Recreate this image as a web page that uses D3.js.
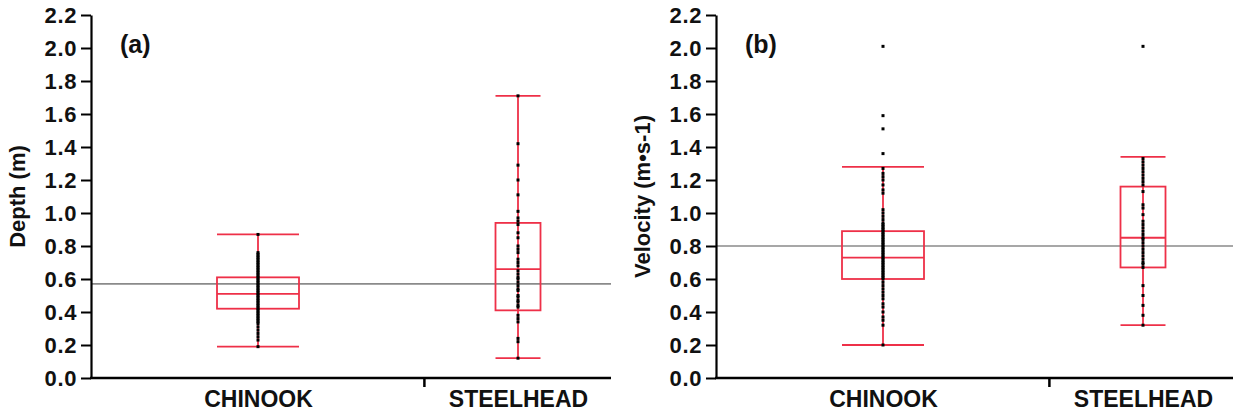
<!DOCTYPE html>
<html>
<head>
<meta charset="utf-8">
<script src="https://cdn.jsdelivr.net/npm/d3@7"></script>
<style>
  html, body { margin: 0; padding: 0; background: #fff; }
  svg { display: block; }
  text { font-family: "Liberation Sans", Arial, Helvetica, sans-serif; font-weight: bold; fill: #111; }
</style>
</head>
<body>
<svg id="chart" width="1233" height="411"></svg>
<script>
// ---------------- DATA ----------------
const categories = ["CHINOOK", "STEELHEAD"];
const yTickValues = [0.0, 0.2, 0.4, 0.6, 0.8, 1.0, 1.2, 1.4, 1.6, 1.8, 2.0, 2.2];

// (a) Depth (m)
const depthLow    = [0.19, 0.12];
const depthQ1     = [0.42, 0.41];
const depthMedian = [0.51, 0.66];
const depthQ3     = [0.61, 0.94];
const depthHigh   = [0.87, 1.71];
const depthRef    = 0.57;
const depthChinookPts = [0.87, 0.76, 0.75, 0.74, 0.73, 0.72, 0.71, 0.70, 0.69, 0.68, 0.67, 0.66, 0.65,
  0.64, 0.63, 0.62, 0.61, 0.60, 0.59, 0.58, 0.57, 0.56, 0.55, 0.54, 0.53, 0.52, 0.51, 0.50, 0.49,
  0.48, 0.47, 0.46, 0.45, 0.44, 0.43, 0.42, 0.41, 0.40, 0.39, 0.38, 0.37, 0.36, 0.35, 0.34, 0.33,
  0.31, 0.29, 0.27, 0.25, 0.23, 0.19];
const depthSteelheadPts = [1.71, 1.42, 1.29, 1.20, 1.11, 1.01, 0.97, 0.95, 0.93, 0.88, 0.85, 0.80,
  0.78, 0.76, 0.72, 0.70, 0.68, 0.65, 0.63, 0.61, 0.60, 0.58, 0.56, 0.54, 0.53, 0.50, 0.49, 0.47,
  0.46, 0.44, 0.43, 0.38, 0.36, 0.34, 0.24, 0.22, 0.12];

// (b) Velocity (m•s-1)
const velLow    = [0.20, 0.32];
const velQ1     = [0.60, 0.67];
const velMedian = [0.73, 0.85];
const velQ3     = [0.89, 1.16];
const velHigh   = [1.28, 1.34];
const velRef    = 0.80;
const velChinookPts = [2.01, 1.59, 1.51, 1.36, 1.27, 1.24, 1.22, 1.20, 1.17, 1.14, 1.12, 1.02, 1.00,
  0.98, 0.96, 0.94, 0.93, 0.92, 0.91, 0.90, 0.89, 0.88, 0.87, 0.86, 0.85, 0.84, 0.83, 0.82, 0.81,
  0.80, 0.79, 0.78, 0.77, 0.76, 0.75, 0.74, 0.73, 0.72, 0.71, 0.70, 0.69, 0.68, 0.67, 0.66, 0.65,
  0.64, 0.63, 0.62, 0.61, 0.60, 0.58, 0.56, 0.54, 0.52, 0.50, 0.48, 0.45, 0.43, 0.40, 0.37, 0.35,
  0.32, 0.20];
const velSteelheadPts = [2.01, 1.33, 1.31, 1.29, 1.27, 1.25, 1.23, 1.21, 1.19, 1.17, 1.13, 1.05, 1.03,
  0.99, 0.95, 0.93, 0.91, 0.89, 0.87, 0.85, 0.84, 0.82, 0.80, 0.78, 0.76, 0.74, 0.72, 0.70, 0.69,
  0.67, 0.56, 0.50, 0.44, 0.38, 0.32];

// ---------------- LAYOUT / STYLE ----------------
const RED = "#ee3048";
const GREY = "#8a8a8a";
const boxWidths = [82, 45];
const plotTop = 15, plotBottom = 378, axisLen = 520;
const firstOffset = 167, lastOffset = 427, sepFrac = 0.64;

const svg = d3.select("#chart");

const panels = [
  { label: "(a)", title: "Depth (m)", axisX: 91, titleX: 17, clip: 611,
    low: depthLow, q1: depthQ1, med: depthMedian, q3: depthQ3, high: depthHigh,
    ref: depthRef, pts: [depthChinookPts, depthSteelheadPts] },
  { label: "(b)", title: "Velocity (m\u2022s-1)", axisX: 716, titleX: 642, clip: 1233,
    low: velLow, q1: velQ1, med: velMedian, q3: velQ3, high: velHigh,
    ref: velRef, pts: [velChinookPts, velSteelheadPts] }
];

const y = d3.scaleLinear().domain([0, 2.2]).range([plotBottom, plotTop]);

panels.forEach(p => {
  const g = svg.append("g");
  const x = d3.scalePoint().domain(categories)
    .range([p.axisX + firstOffset, p.axisX + lastOffset]);
  const xEnd = Math.min(p.axisX + axisLen, p.clip);

  // reference line
  g.append("line")
    .attr("x1", p.axisX).attr("x2", xEnd)
    .attr("y1", y(p.ref)).attr("y2", y(p.ref))
    .attr("stroke", GREY).attr("stroke-width", 1.7);

  // box plots
  categories.forEach((c, i) => {
    const cx = x(c), w = boxWidths[i];
    const bg = g.append("g").attr("stroke", RED).attr("stroke-width", 1.8).attr("fill", "none");
    bg.append("line").attr("x1", cx).attr("x2", cx)
      .attr("y1", y(p.low[i])).attr("y2", y(p.high[i]));
    [p.low[i], p.high[i]].forEach(v => {
      bg.append("line").attr("x1", cx - w / 2).attr("x2", cx + w / 2)
        .attr("y1", y(v)).attr("y2", y(v));
    });
    bg.append("rect").attr("x", cx - w / 2).attr("width", w)
      .attr("y", y(p.q3[i])).attr("height", y(p.q1[i]) - y(p.q3[i]))
      .attr("fill", "none");
    bg.append("line").attr("x1", cx - w / 2).attr("x2", cx + w / 2)
      .attr("y1", y(p.med[i])).attr("y2", y(p.med[i]));
    g.append("g").selectAll("rect").data(p.pts[i]).join("rect")
      .attr("x", cx - 1.5).attr("width", 3)
      .attr("y", d => y(d) - 1.5).attr("height", 3)
      .attr("fill", "#000");
  });

  // y axis
  const yAxis = d3.axisLeft(y).tickValues(yTickValues)
    .tickFormat(d3.format(".1f")).tickSize(10).tickSizeOuter(0).tickPadding(4);
  const ya = g.append("g").attr("transform", `translate(${p.axisX},0)`).call(yAxis);
  ya.select(".domain").attr("stroke", "#000").attr("stroke-width", 2.2);
  ya.selectAll(".tick line").attr("stroke", "#000").attr("stroke-width", 2);
  ya.selectAll(".tick text").attr("font-size", 22).attr("fill", "#111")
    .attr("font-family", "Liberation Sans, Arial, sans-serif").attr("font-weight", "bold")
    .attr("letter-spacing", "0.6px");

  // x axis
  const xAxis = d3.axisBottom(x).tickSize(0).tickPadding(10);
  const xa = g.append("g").attr("transform", `translate(0,${plotBottom})`).call(xAxis);
  xa.select(".domain").remove();
  xa.selectAll(".tick text").attr("font-size", 23).attr("fill", "#111")
    .attr("font-family", "Liberation Sans, Arial, sans-serif").attr("font-weight", "bold")
    .attr("dy", "0.82em");
  g.append("line").attr("x1", p.axisX - 1).attr("x2", xEnd)
    .attr("y1", plotBottom).attr("y2", plotBottom)
    .attr("stroke", "#000").attr("stroke-width", 2.5);
  const sepX = x(categories[0]) + sepFrac * x.step();
  g.append("line").attr("x1", sepX).attr("x2", sepX)
    .attr("y1", plotBottom).attr("y2", plotBottom + 9)
    .attr("stroke", "#000").attr("stroke-width", 2.5);

  // axis title
  g.append("text")
    .attr("transform", `translate(${p.titleX},${(plotTop + plotBottom) / 2}) rotate(-90)`)
    .attr("text-anchor", "middle").attr("dy", "0.35em")
    .attr("font-size", 22)
    .text(p.title);

  // panel label
  g.append("text").attr("x", p.axisX + 29).attr("y", 53)
    .attr("font-size", 25).text(p.label);
});
</script>
</body>
</html>
